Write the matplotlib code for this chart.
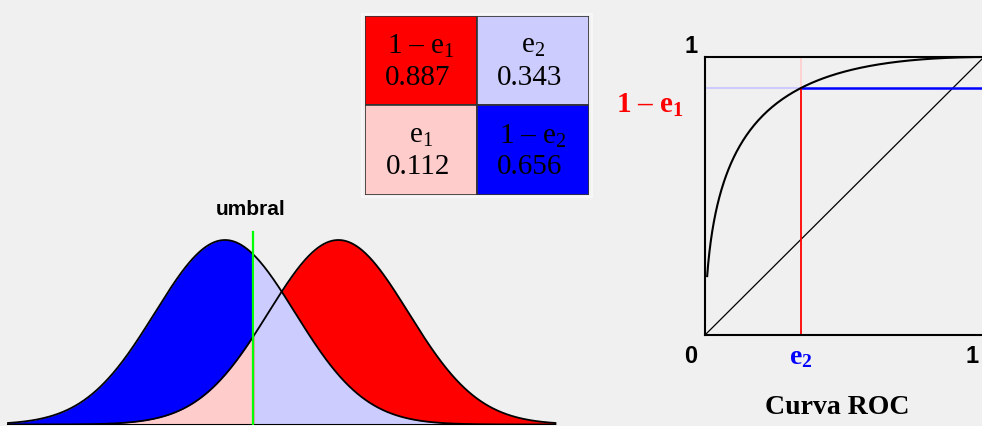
import numpy as np
import matplotlib
matplotlib.use('Agg')
from matplotlib import pyplot as plt
from matplotlib.patches import Rectangle
from statistics import NormalDist

plt.rcParams['mathtext.fontset'] = 'custom'
plt.rcParams['mathtext.rm'] = 'Liberation Serif'
plt.rcParams['mathtext.bf'] = 'Liberation Serif:bold'
plt.rcParams['mathtext.it'] = 'Liberation Serif:italic'
plt.rcParams['mathtext.default'] = 'regular'

# error rates shown in the table
e1 = 0.112
e2 = 0.343
one_minus_e1 = 0.887
one_minus_e2 = 0.656

# table cells, row by row
cell_labels = [['1 – e$_1$', 'e$_2$'],
               ['e$_1$', '1 – e$_2$']]
cell_values = [[one_minus_e1, e2], [e1, one_minus_e2]]
cell_colors = [['#ff0000', '#ccccff'], ['#ffcccc', '#0000ff']]

BG = '#f0f0f0'
SERIF = 'Liberation Serif'
SANS = 'Liberation Sans'

# two unit-variance normals, threshold and separation from e1/e2
nd = NormalDist()
umbral = nd.inv_cdf(1 - e2)
dprime = umbral + nd.inv_cdf(1 - e1)


def pdf(x, mu):
    return np.exp(-0.5 * (x - mu) ** 2) / np.sqrt(2 * np.pi)


W, H = 982, 426
fig = plt.figure(figsize=(W / 100, H / 100), dpi=100, facecolor=BG)

# ---- distributions ----
ax = fig.add_axes([0, 1.5 / H, 560 / W, 229.5 / H])
ax.set_facecolor(BG)
ax.axis('off')
ax.set_xlim(-225 / 70, 335 / 70)
ax.set_ylim(0, pdf(0, 0) * 229.5 / 184.5)

x = np.linspace(-3.1, dprime + 3.1, 800)
fb = pdf(x, 0)
fr = pdf(x, dprime)
left = x <= umbral
right = x >= umbral
ax.fill_between(x[left], 0, fb[left], color='#0000ff', lw=0)
ax.fill_between(x[left], 0, fr[left], color='#ffcccc', lw=0)
ax.fill_between(x[right], 0, fr[right], color='#ff0000', lw=0)
ax.fill_between(x[right], 0, fb[right], color='#ccccff', lw=0)
ax.plot(x, fb, color='black', lw=1.3)
ax.plot(x, fr, color='black', lw=1.3)
ax.plot([x[0], x[-1]], [0, 0], color='black', lw=1.5)
ax.plot([umbral, umbral], [0, pdf(0, 0) * 192.8 / 184.5], color='#00ff00', lw=1.6)
ax.text(umbral - 0.04, pdf(0, 0) * 215.5 / 184.5, 'umbral', ha='center', va='center',
        fontsize=15, fontweight='bold', family=SANS)

# ---- table ----
tx = fig.add_axes([365 / W, (H - 195) / H, 224 / W, 179 / H])
tx.axis('off')
tx.set_xlim(0, 2)
tx.set_ylim(0, 2)
tx.add_patch(Rectangle((-0.025, -0.025), 2.05, 2.05, fc='none', ec='#f7f7f7',
                       lw=1.5, clip_on=False))
for r in range(2):
    for c in range(2):
        y0 = 1 - r
        tx.add_patch(Rectangle((c, y0), 1, 1, fc=cell_colors[r][c], ec='#333333', lw=1.2))
        tx.text(c + 0.5, y0 + 0.66, cell_labels[r][c], ha='center', va='center',
                fontsize=21, family=SERIF, color='black')
        tx.text(c + 0.47, y0 + 0.31, f'{cell_values[r][c]:.3f}', ha='center',
                va='center', fontsize=21, family=SERIF, color='black')

# ---- ROC curve ----
rx = fig.add_axes([705 / W, (H - 335) / H, 279 / W, 278 / H])
rx.set_facecolor(BG)
rx.set_xlim(0, 1)
rx.set_ylim(0, 1)
rx.set_xticks([])
rx.set_yticks([])
for s in rx.spines.values():
    s.set_linewidth(1.5)
    s.set_color('black')

th = np.linspace(dprime + 0.8, -3.2, 400)
fpr = np.array([1 - nd.cdf(t) for t in th])
tpr = np.array([1 - nd.cdf(t - dprime) for t in th])

rx.plot([0, 1], [0, 1], color='black', lw=0.9)
rx.plot([0, e2], [one_minus_e1, one_minus_e1], color='#ccccff', lw=1.5)
rx.plot([e2, e2], [one_minus_e1, 1], color='#ffcccc', lw=1.2)
rx.plot([e2, 1], [one_minus_e1, one_minus_e1], color='#0000ff', lw=1.8)
rx.plot([e2, e2], [0, one_minus_e1], color='#ff0000', lw=1.3)
rx.plot(fpr, tpr, color='black', lw=1.5)

for xt, yt, s in [(-0.05, 1.036, '1'), (-0.05, -0.076, '0'), (0.957, -0.076, '1')]:
    rx.text(xt, yt, s, ha='center', va='center', fontsize=17,
            fontweight='bold', family=SANS, clip_on=False)
rx.text(e2, -0.083, 'e$_2$', ha='center', va='center', fontsize=20,
        fontweight='bold', family=SERIF, color='#0000ff', clip_on=False)
rx.text(-0.197, one_minus_e1 - 0.06, '1 – e$_1$', ha='center', va='center',
        fontsize=21, fontweight='bold', family=SERIF, color='#ff0000', clip_on=False)
rx.text(0.473, -0.259, 'Curva ROC', ha='center', va='center', fontsize=20,
        fontweight='bold', family=SERIF, clip_on=False)

fig.savefig('out.png', dpi=100, facecolor=BG)
